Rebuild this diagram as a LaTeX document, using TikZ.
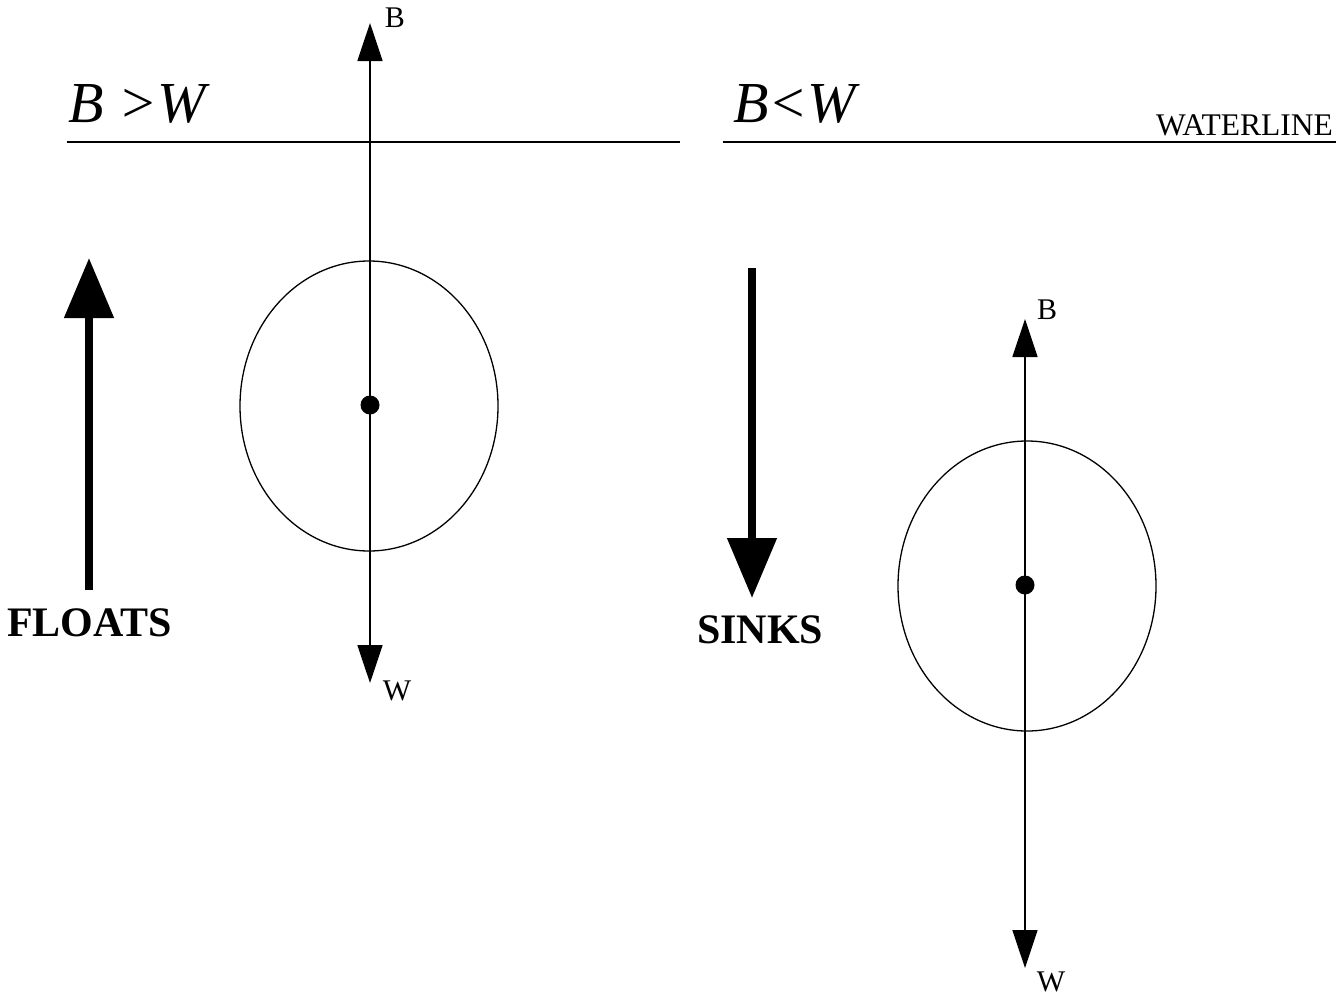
\documentclass[tikz,border=0pt]{standalone}
\usepackage{fontspec}
\setmainfont{Liberation Serif}
\usetikzlibrary{arrows.meta,shapes.geometric}
\begin{document}
\begin{tikzpicture}[x=1pt,y=-1pt,
  thin line/.style={line width=1.6pt},
  force/.style={thin line,-{Triangle[length=38pt,width=25pt]}},
  bigarrow/.style={line width=8pt,-{Triangle[length=60pt,width=48pt]}},
  water/.style={line width=2pt},
  body/.style={draw,ellipse,line width=1.3pt,minimum width=258pt,minimum height=290pt,inner sep=0pt},
  dotnode/.style={circle,fill=black,minimum size=19pt,inner sep=0pt},
  small/.style={font=\fontsize{30}{30}\selectfont,inner sep=0pt},
  big/.style={font=\fontsize{58}{58}\selectfont\itshape,inner sep=0pt,anchor=base west},
  label/.style={font=\fontsize{42}{42}\selectfont\bfseries,inner sep=0pt,anchor=base west}
]
\useasboundingbox (0,0) rectangle (1336,996);
% waterlines
\coordinate (wl1) at (67,142);
\coordinate (wr1) at (680,142);
\coordinate (wl2) at (723,142);
\coordinate (wr2) at (1336,142);
\draw[water] (wl1) -- (wr1);
\draw[water] (wl2) -- (wr2);
\node[big] (tb) at (68,122) {B >W};
\node[big] (tw) at (733,122) {B<W};
\node[font=\fontsize{31.5}{31.5}\selectfont,inner sep=0pt,anchor=base east] (wtext) at (1333,135) {WATERLINE};
% left body
\node[body] (c1) at (369,406) {};
\node[dotnode] (d1) at (370,405) {};
\coordinate (b1) at (370,23);
\coordinate (w1) at (370,683);
\draw[force] (d1.center) -- (b1);
\draw[force] (d1.center) -- (w1);
\node[small] (lb1) at (395,18) {B};
\node[small] (lw1) at (397,691) {W};
% right body
\node[body] (c2) at (1027,586) {};
\node[dotnode] (d2) at (1025,585) {};
\coordinate (b2) at (1025,319);
\coordinate (w2) at (1025,968);
\draw[force] (d2.center) -- (b2);
\draw[force] (d2.center) -- (w2);
\node[small] (lb2) at (1047,310) {B};
\node[small] (lw2) at (1051,982) {W};
% big arrows
\coordinate (fa0) at (89,590);
\coordinate (fa1) at (89,258);
\draw[bigarrow] (fa0) -- (fa1);
\node[label] (floats) at (7,636) {FLOATS};
\coordinate (sa0) at (752,268);
\coordinate (sa1) at (752,598);
\draw[bigarrow] (sa0) -- (sa1);
\node[label] (sinks) at (697,643) {SINKS};
\end{tikzpicture}
\end{document}
